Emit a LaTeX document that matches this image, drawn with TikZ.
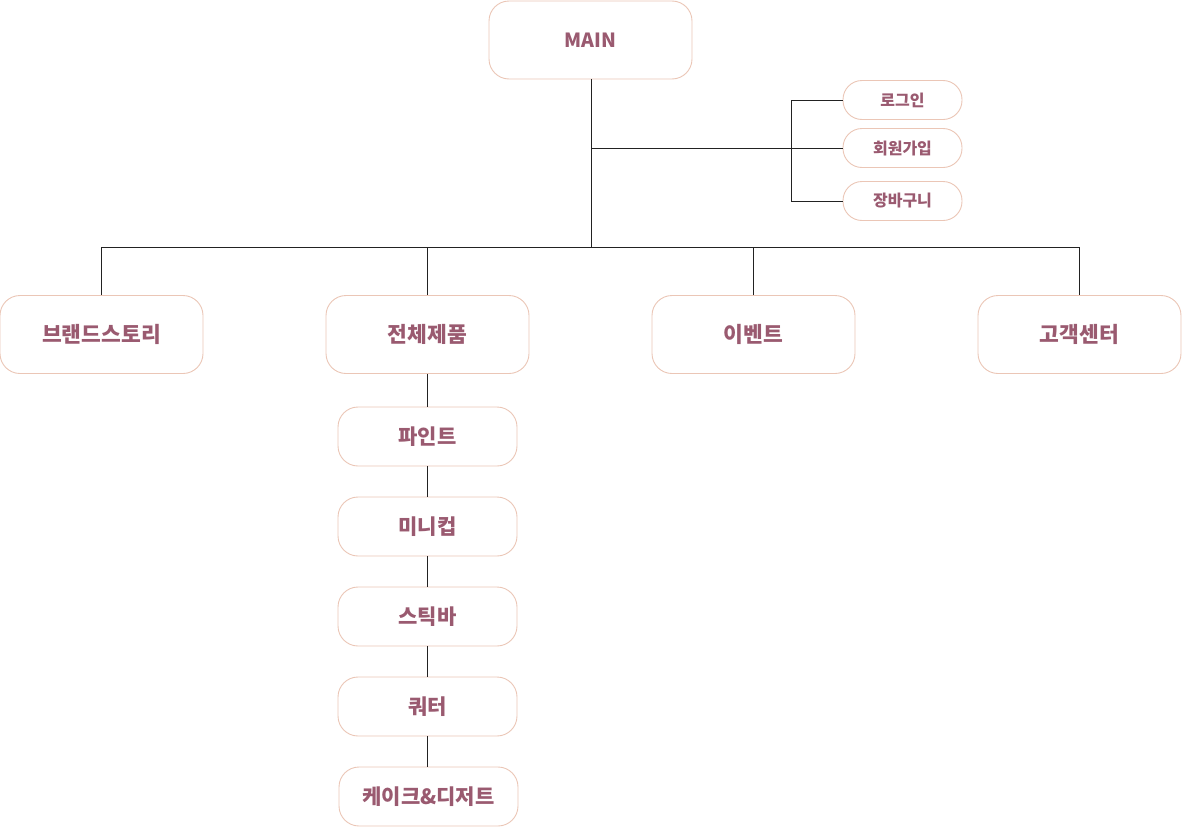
\documentclass[tikz,border=0pt]{standalone}
\usepackage{fontspec}
\setmainfont{Noto Sans CJK KR}
\definecolor{boxline}{HTML}{EBC6B6}
\definecolor{boxtext}{HTML}{9A5A70}
\definecolor{wire}{HTML}{222222}
\begin{document}
\begin{tikzpicture}[x=1pt,y=-1pt,
  card/.style={draw=boxline, line width=0.9pt, fill=white, rounded corners=20pt,
    minimum width=203pt, minimum height=78pt, inner sep=0pt,
    text=boxtext, font=\fontsize{21.5}{24}\selectfont\bfseries},
  pill/.style={draw=boxline, line width=0.9pt, fill=white, rounded corners=19pt,
    minimum width=119pt, minimum height=39pt, inner sep=0pt,
    text=boxtext, font=\fontsize{16}{18}\selectfont\bfseries},
  item/.style={draw=boxline, line width=0.9pt, fill=white, rounded corners=20pt,
    minimum width=179pt, minimum height=59pt, inner sep=0pt,
    text=boxtext, font=\fontsize{21}{24}\selectfont\bfseries},
  wire/.style={draw=wire, line width=0.8pt}]
\useasboundingbox (0,0) rectangle (1182,827);

% top level
\node[card, font=\fontsize{19.5}{22}\selectfont\bfseries] (main) at (590.5,40) {MAIN};

% member menu
\node[pill] (login) at (902.5,100) {로그인};
\node[pill] (join) at (902.5,148) {회원가입};
\node[pill] (cart) at (902.5,201) {장바구니};

% main categories
\node[card] (brand) at (101.5,334.5) {브랜드스토리};
\node[card] (prod) at (427.5,334.5) {전체제품};
\node[card] (event) at (753.5,334.5) {이벤트};
\node[card] (cs) at (1079.5,334.5) {고객센터};

% products
\node[item] (pint) at (427.5,436.5) {파인트};
\node[item] (mini) at (427.5,526.5) {미니컵};
\node[item] (stick) at (427.5,616.5) {스틱바};
\node[item] (quart) at (427.5,706.5) {쿼터};
\node[item] (cake) at (428.5,796.5) {케이크\&디저트};

% connectors
\coordinate (hub) at (591,148);
\coordinate (bus) at (591,247);
\coordinate (fork) at (791,148);
\draw[wire] (main.south -| hub) -- (bus);
\draw[wire] (hub) -- (join.west);
\draw[wire] (login.west) -- (fork |- login.west) -- (fork |- cart.west) -- (cart.west);
\draw[wire] (brand.north) -- (brand.north |- bus) -- (cs.north |- bus) -- (cs.north);
\draw[wire] (prod.north) -- (prod.north |- bus);
\draw[wire] (event.north) -- (event.north |- bus);
\draw[wire] (prod.south) -- (pint.north);
\draw[wire] (pint.south) -- (mini.north);
\draw[wire] (mini.south) -- (stick.north);
\draw[wire] (stick.south) -- (quart.north);
\draw[wire] (quart.south) -- (cake.north -| quart.south);
\end{tikzpicture}
\end{document}
